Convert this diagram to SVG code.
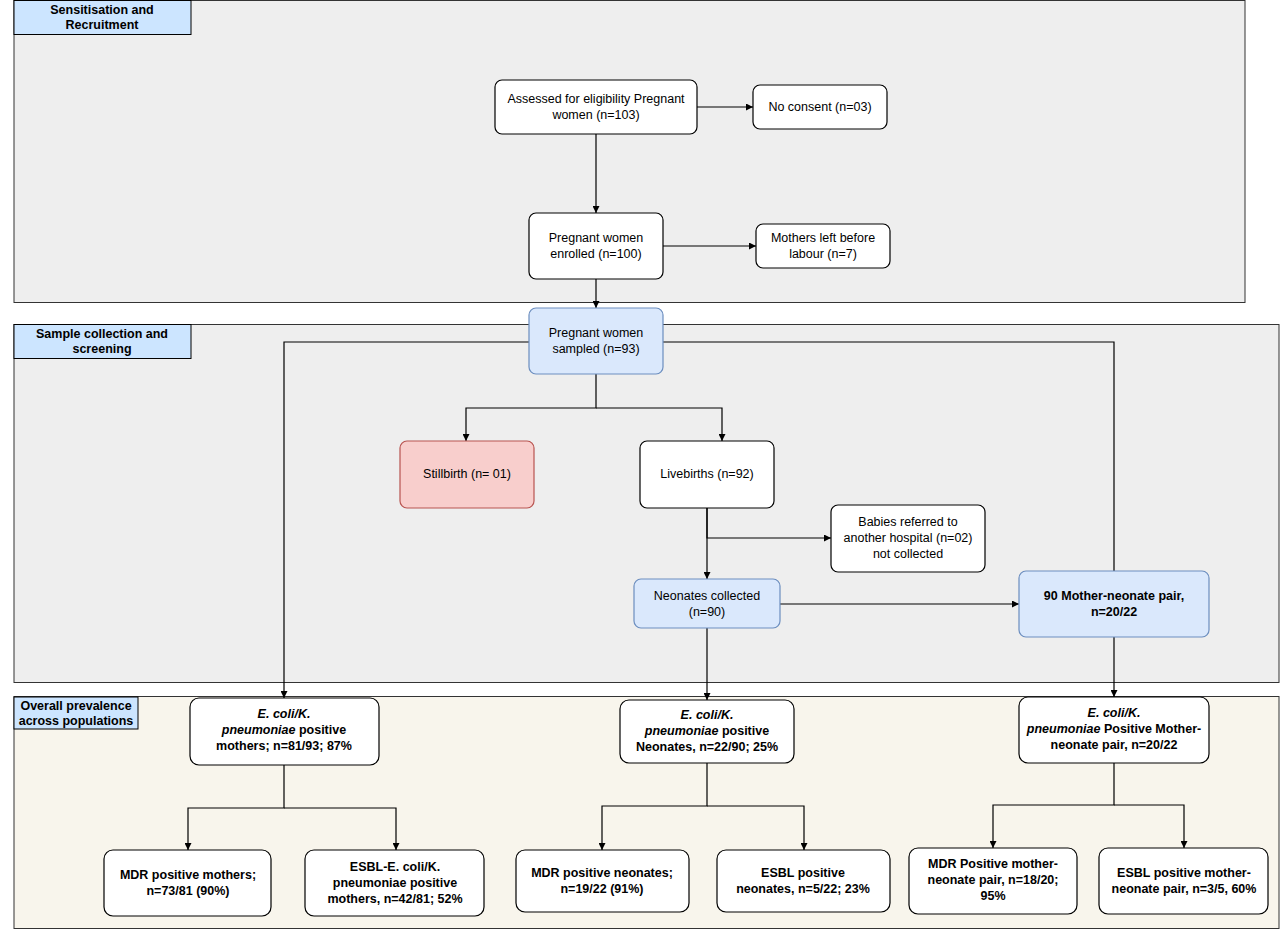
<svg xmlns="http://www.w3.org/2000/svg" width="1280" height="929" viewBox="0 0 1280 929">
<style>
text{font-family:"Liberation Sans",Arial,sans-serif;font-size:12.5px;fill:#000;text-anchor:middle}
.b{font-weight:bold}
.panel{stroke:#333;stroke-width:1}
.lbl{fill:#cce5ff;stroke:#000;stroke-width:1}
.lt{font-weight:bold;font-size:12.5px}
.n{fill:#fff;stroke:#000;stroke-width:1.2}
.bl{fill:#dae8fc;stroke:#6c8ebf;stroke-width:1.2}
.rd{fill:#f8cecc;stroke:#b85450;stroke-width:1.2}
.c{fill:none;stroke:#000;stroke-width:1.2;marker-end:url(#ah)}
.cl{fill:none;stroke:#000;stroke-width:1.2}
</style>
<defs><marker id="ah" viewBox="0 0 10 10" refX="10" refY="5" markerWidth="7" markerHeight="7" orient="auto" markerUnits="userSpaceOnUse"><path d="M0,0L10,5L0,10z" fill="#000"/></marker></defs>
<rect width="1280" height="929" fill="#fff"/>
<g id="panels">
<rect class="panel" x="14" y="0.5" width="1231" height="302" fill="#eeeeee"/>
<rect class="panel" x="14" y="324.5" width="1265" height="358" fill="#eeeeee"/>
<rect class="panel" x="14" y="696.5" width="1265" height="232" fill="#f8f5ec"/>
<rect class="lbl" x="14" y="0.5" width="177" height="34"/>
<text class="lt" x="102" y="14">Sensitisation and</text><text class="lt" x="102" y="29">Recruitment</text>
<rect class="lbl" x="14" y="324.5" width="177" height="34"/>
<text class="lt" x="102" y="338">Sample collection and</text><text class="lt" x="102" y="353">screening</text>
<rect class="lbl" x="14" y="697" width="124" height="32"/>
<text class="lt" x="76" y="710">Overall prevalence</text><text class="lt" x="76" y="725">across populations</text>
</g>
<g id="connectors">
<path class="c" d="M697,107H753"/>
<path class="c" d="M596,134V213"/>
<path class="c" d="M663,246H756"/>
<path class="c" d="M596,279V308"/>
<path class="c" d="M596,374V408H466V441"/>
<path class="c" d="M596,408H722V441"/>
<path class="c" d="M529,342H284V698"/>
<path class="cl" d="M663,342H1114V571"/>
<path class="c" d="M707,508V579"/>
<path class="c" d="M707,508V538H831"/>
<path class="c" d="M780,604H1019"/>
<path class="c" d="M707,628V700"/>
<path class="c" d="M1114,637V697"/>
<path class="c" d="M284,765V808H188V850"/>
<path class="c" d="M284,808H396V850"/>
<path class="c" d="M707,763V806H602V850"/>
<path class="c" d="M707,806H804V850"/>
<path class="c" d="M1114,763V805H993V848"/>
<path class="c" d="M1114,805H1184V848"/>
</g>
<g id="nA"><rect class="n" x="495" y="80" width="202" height="54" rx="7"/><text x="596" y="103">Assessed for eligibility Pregnant</text><text x="596" y="119">women (n=103)</text></g>
<g id="nB"><rect class="n" x="753" y="85" width="134" height="44" rx="7"/><text x="820" y="111">No consent (n=03)</text></g>
<g id="nC"><rect class="n" x="529" y="213" width="134" height="66" rx="7"/><text x="596" y="242">Pregnant women</text><text x="596" y="258">enrolled (n=100)</text></g>
<g id="nD"><rect class="n" x="756" y="224" width="134" height="44" rx="7"/><text x="823" y="242">Mothers left before</text><text x="823" y="258">labour (n=7)</text></g>
<g id="nE"><rect class="bl" x="529" y="308" width="134" height="66" rx="7"/><text x="596" y="337">Pregnant women</text><text x="596" y="353">sampled (n=93)</text></g>
<g id="nF"><rect class="rd" x="400" y="441" width="134" height="67" rx="7"/><text x="467" y="478">Stillbirth (n= 01)</text></g>
<g id="nG"><rect class="n" x="640" y="441" width="134" height="67" rx="7"/><text x="707" y="478">Livebirths (n=92)</text></g>
<g id="nH"><rect class="n" x="831" y="505" width="154" height="67" rx="7"/><text x="908" y="526">Babies referred to</text><text x="908" y="542">another hospital (n=02)</text><text x="908" y="558">not collected</text></g>
<g id="nI"><rect class="bl" x="634" y="579" width="146" height="49" rx="7"/><text x="707" y="600">Neonates collected</text><text x="707" y="616">(n=90)</text></g>
<g id="nJ"><rect class="bl" x="1019" y="571" width="190" height="66" rx="7"/><text class="b" x="1114" y="600">90 Mother-neonate pair,</text><text class="b" x="1114" y="616">n=20/22</text></g>
<g id="nK"><rect class="n" x="190" y="698" width="189" height="67" rx="9"/><text class="b" x="284" y="718"><tspan font-style="italic">E. coli/K.</tspan></text><text class="b" x="284" y="734"><tspan font-style="italic">pneumoniae</tspan> positive</text><text class="b" x="284" y="750">mothers; n=81/93; 87%</text></g>
<g id="nL"><rect class="n" x="620" y="700" width="174" height="63" rx="9"/><text class="b" x="707" y="719"><tspan font-style="italic">E. coli/K.</tspan></text><text class="b" x="707" y="735"><tspan font-style="italic">pneumoniae</tspan> positive</text><text class="b" x="707" y="751">Neonates, n=22/90; 25%</text></g>
<g id="nM"><rect class="n" x="1019" y="697" width="190" height="66" rx="9"/><text class="b" x="1114" y="717"><tspan font-style="italic">E. coli/K.</tspan></text><text class="b" x="1114" y="733"><tspan font-style="italic">pneumoniae</tspan> Positive Mother-</text><text class="b" x="1114" y="749">neonate pair, n=20/22</text></g>
<g id="nN1"><rect class="n" x="104" y="850" width="167" height="66" rx="9"/><text class="b" x="188" y="879">MDR positive mothers;</text><text class="b" x="188" y="895">n=73/81 (90%)</text></g>
<g id="nN2"><rect class="n" x="305" y="850" width="179" height="66" rx="9"/><text class="b" x="395" y="871">ESBL-E. coli/K.</text><text class="b" x="395" y="887">pneumoniae positive</text><text class="b" x="395" y="903">mothers, n=42/81; 52%</text></g>
<g id="nN3"><rect class="n" x="516" y="850" width="173" height="62" rx="9"/><text class="b" x="602" y="877">MDR positive neonates;</text><text class="b" x="602" y="893">n=19/22 (91%)</text></g>
<g id="nN4"><rect class="n" x="717" y="850" width="173" height="62" rx="9"/><text class="b" x="803" y="877">ESBL positive</text><text class="b" x="803" y="893">neonates, n=5/22; 23%</text></g>
<g id="nN5"><rect class="n" x="909" y="848" width="168" height="66" rx="9"/><text class="b" x="993" y="868">MDR Positive mother-</text><text class="b" x="993" y="884">neonate pair, n=18/20;</text><text class="b" x="993" y="900">95%</text></g>
<g id="nN6"><rect class="n" x="1099" y="848" width="169" height="66" rx="9"/><text class="b" x="1184" y="877">ESBL positive mother-</text><text class="b" x="1184" y="893">neonate pair, n=3/5, 60%</text></g>
</svg>
